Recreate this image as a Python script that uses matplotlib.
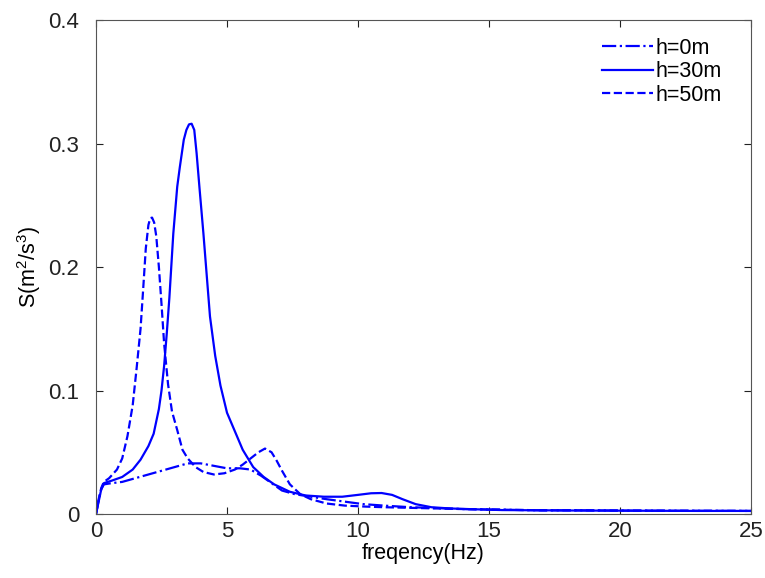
import matplotlib
matplotlib.use("Agg")
import matplotlib.pyplot as plt
from matplotlib.ticker import FuncFormatter

# -------------------------- Data --------------------------
# h=0m (dash-dot)
freq_0m = [0, 0.1, 0.2, 0.3, 0.6, 1.0, 1.5, 2.0, 2.5, 3.0, 3.5, 4.0, 4.5, 5.0, 5.5, 5.9,
           6.3, 6.7, 7.1, 7.6, 8.2, 8.8, 9.5, 10.2, 11, 12, 13, 14, 15.5, 17, 18.5, 20,
           21.5, 23, 25]
spec_0m = [0, 0.011, 0.020, 0.024, 0.025, 0.026, 0.029, 0.032, 0.035, 0.038, 0.041, 0.041,
           0.039, 0.037, 0.037, 0.036, 0.031, 0.025, 0.019, 0.016, 0.014, 0.012, 0.010,
           0.008, 0.0068, 0.0055, 0.0048, 0.004, 0.0035, 0.003, 0.003, 0.0028, 0.0027,
           0.0026, 0.0025]

# h=30m (solid)
freq_30m = [0, 0.1, 0.2, 0.3, 0.6, 1.0, 1.4, 1.7, 2.0, 2.2, 2.4, 2.5, 2.6, 2.7, 2.8, 2.95,
            3.1, 3.2, 3.35, 3.45, 3.55, 3.65, 3.75, 3.84, 3.95, 4.1, 4.35, 4.55, 4.75,
            5.0, 5.3, 5.6, 6.0, 6.4, 6.8, 7.4, 8.0, 8.7, 9.4, 10.0, 10.5, 10.9, 11.3,
            11.7, 12.2, 12.8, 13.5, 14.5, 15.5, 17, 18.5, 20, 21.5, 23, 25]
spec_30m = [0, 0.010, 0.020, 0.025, 0.027, 0.030, 0.036, 0.044, 0.055, 0.065, 0.085, 0.100,
            0.120, 0.146, 0.175, 0.227, 0.265, 0.281, 0.303, 0.311, 0.3155, 0.316, 0.311,
            0.292, 0.264, 0.227, 0.160, 0.128, 0.104, 0.082, 0.067, 0.052, 0.038, 0.030,
            0.024, 0.018, 0.015, 0.014, 0.014, 0.0155, 0.0168, 0.017, 0.0155, 0.012,
            0.008, 0.0055, 0.0045, 0.0038, 0.0032, 0.003, 0.0028, 0.0027, 0.0026, 0.0025,
            0.0025]

# h=50m (dashed)
freq_50m = [0, 0.1, 0.2, 0.3, 0.5, 0.8, 1.0, 1.2, 1.4, 1.55, 1.7, 1.8, 1.9, 2.0, 2.07,
            2.14, 2.22, 2.3, 2.4, 2.5, 2.6, 2.75, 2.9, 3.1, 3.3, 3.5, 3.8, 4.1, 4.5, 4.9,
            5.3, 5.6, 5.9, 6.2, 6.45, 6.7, 6.9, 7.1, 7.4, 7.8, 8.2, 8.8, 9.5, 10.3, 11,
            12, 13, 14, 15.5, 17, 18.5, 20, 21.5, 23, 25]
spec_50m = [0, 0.012, 0.021, 0.026, 0.029, 0.036, 0.045, 0.063, 0.088, 0.118, 0.150, 0.182,
            0.215, 0.234, 0.2395, 0.2400, 0.236, 0.225, 0.200, 0.170, 0.138, 0.105, 0.083,
            0.068, 0.052, 0.045, 0.038, 0.034, 0.032, 0.033, 0.036, 0.040, 0.045, 0.050,
            0.053, 0.050, 0.043, 0.035, 0.024, 0.016, 0.012, 0.0085, 0.0068, 0.006,
            0.0055, 0.005, 0.0045, 0.004, 0.0035, 0.003, 0.003, 0.0028, 0.0027, 0.0026,
            0.0025]

x_ticks = [0, 5, 10, 15, 20, 25]
y_ticks = [0, 0.1, 0.2, 0.3, 0.4]

# -------------------------- Plot --------------------------
plt.rcParams["font.family"] = ["Liberation Sans", "DejaVu Sans"]
plt.rcParams["mathtext.fontset"] = "custom"
plt.rcParams["mathtext.rm"] = "Liberation Sans"
plt.rcParams["mathtext.it"] = "Liberation Sans"

fig = plt.figure(figsize=(7.65, 5.78), dpi=100)
ax = fig.add_axes([0.1255, 0.1107, 0.8562, 0.8547])

ax.plot(freq_0m, spec_0m, color="#0000ff", lw=1.6, ls="-.", label="h=0m")
ax.plot(freq_30m, spec_30m, color="#0000ff", lw=1.6, ls="-", label="h=30m")
ax.plot(freq_50m, spec_50m, color="#0000ff", lw=1.6, ls="--", label="h=50m")

ax.set_xlim(0, 25)
ax.set_ylim(0, 0.4)
ax.set_xticks(x_ticks)
ax.set_yticks(y_ticks)
ax.yaxis.set_major_formatter(FuncFormatter(lambda v, p: f"{v:g}"))
ax.tick_params(direction="in", top=True, right=True, length=5, labelsize=16,
               colors="#222222")
ax.tick_params(axis="y", pad=12)
ax.tick_params(axis="x", pad=5)
for spine in ax.spines.values():
    spine.set_color("#555555")

ax.set_xlabel("freqency(Hz)", fontsize=15.5, labelpad=1)
ax.set_ylabel(r"S(m$^2$/s$^3$)", fontsize=15.5, labelpad=4)

ax.legend(loc="upper right", bbox_to_anchor=(0.975, 0.99), frameon=False, fontsize=15.5,
          handlelength=2.4, handletextpad=0.1, labelspacing=0.12, borderaxespad=0.2)

fig.savefig("out.png", dpi=100)
